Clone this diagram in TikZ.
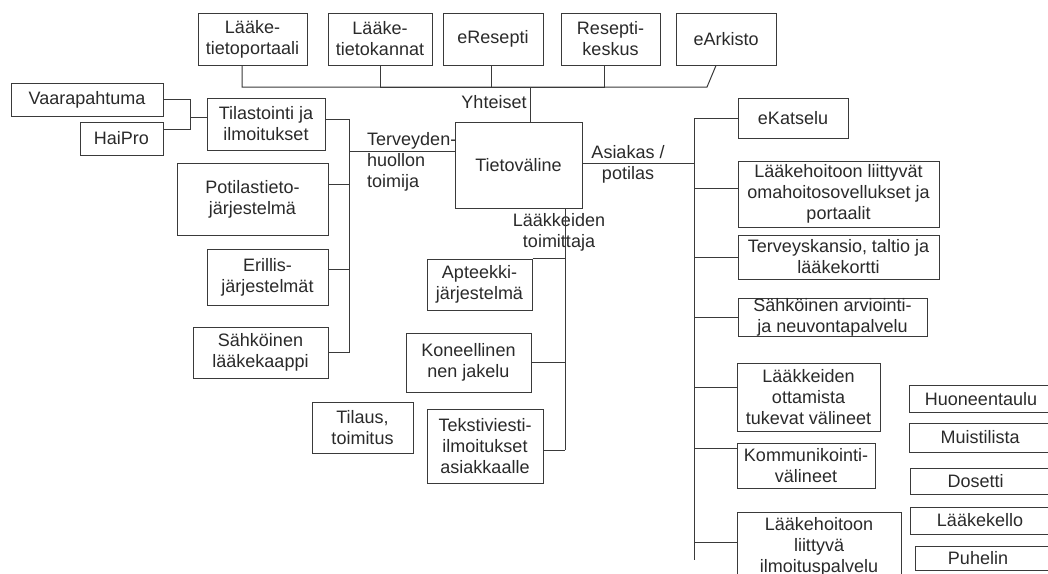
\documentclass[tikz,border=0pt]{standalone}
\usepackage{fontspec}
\setmainfont{Liberation Sans}
\definecolor{linec}{HTML}{3A3A3A}
\definecolor{textc}{HTML}{2A2A2A}
\newcommand{\mainf}{\fontsize{18}{21}\selectfont}
\tikzset{
  box/.style={draw=linec, line width=1pt, inner sep=0pt, align=center, text=textc, font=\mainf},
  sbox/.style={draw=linec, line width=1pt, inner sep=0pt, text=textc, font=\mainf},
  lbl/.style={inner sep=0pt, align=center, text=textc, font=\mainf},
  conn/.style={draw=linec, line width=1pt}
}
\begin{document}
\begin{tikzpicture}[x=1pt,y=-1pt]
\useasboundingbox (0,0) rectangle (1048,573);
\fill[white] (0,0) rectangle (1048,573);
\clip (0,0) rectangle (1048,573);

% top row
\node[box, minimum width=109pt, minimum height=52pt] (lp) at (252.5,39) {Lääke-\\tietoportaali};
\node[box, minimum width=104pt, minimum height=52pt] (lk) at (380,39) {Lääke-\\tietokannat};
\node[box, minimum width=100pt, minimum height=52pt] (er) at (493,39) {eResepti};
\node[box, minimum width=99pt, minimum height=52pt] (rk) at (610.5,39) {Resepti-\\keskus};
\node[box, minimum width=100pt, minimum height=52pt] (ea) at (726,39) {eArkisto};

% centre
\node[box, minimum width=127pt, minimum height=86pt] (tv) at (518.5,165) {Tietoväline};

% left
\node[box, minimum width=152pt, minimum height=33pt] (vp) at (87,99.5) {Vaarapahtuma};
\node[box, minimum width=83pt, minimum height=33pt] (hp) at (121.5,138.5) {HaiPro};
\node[box, minimum width=118pt, minimum height=52pt] (tl) at (266,124) {Tilastointi ja\\ilmoitukset};
\node[box, minimum width=151pt, minimum height=72pt] (pj) at (252.5,199) {Potilastieto-\\järjestelmä};
\node[box, minimum width=121pt, minimum height=56pt] (ej) at (267.5,277) {Erillis-\\järjestelmät};
\node[box, minimum width=135pt, minimum height=51pt] (sl) at (260.5,352.5) {Sähköinen\\lääkekaappi};

% middle
\node[box, minimum width=105pt, minimum height=51pt] (ap) at (479.5,284.5) {Apteekki-\\järjestelmä};
\node[box, minimum width=125pt, minimum height=59pt] (kj) at (468.5,362.5) {Koneellinen\\nen jakelu};
\node[box, minimum width=101pt, minimum height=51pt] (tt) at (362.5,427.5) {Tilaus,\\toimitus};
\node[box, minimum width=116pt, minimum height=74pt] (ta) at (485,446) {Tekstiviesti-\\ilmoitukset\\asiakkaalle};

% right
\node[box, minimum width=110pt, minimum height=40pt] (ek) at (793,118) {eKatselu};
\node[box, minimum width=201pt, minimum height=66pt] (lo) at (838.5,194) {Lääkehoitoon liittyvät\\omahoitosovellukset ja\\portaalit};
\node[box, minimum width=201pt, minimum height=44pt] (tk) at (838.5,257) {Terveyskansio, taltio ja\\lääkekortti};
\node[box, minimum width=189pt, minimum height=38pt] (sa) at (832.5,317) {Sähköinen arviointi-\\ja neuvontapalvelu};
\node[box, minimum width=143pt, minimum height=68pt] (lt) at (808.5,397) {Lääkkeiden\\ottamista\\tukevat välineet};
\node[box, minimum width=138pt, minimum height=45pt] (kv) at (806,465.5) {Kommunikointi-\\välineet};
\node[box, minimum width=164pt, minimum height=70pt] (li) at (819,547) {Lääkehoitoon\\liittyvä\\ilmoituspalvelu};

% far right
\node[sbox, minimum width=151pt, minimum height=27pt] (hu) at (984.5,399) {\kern-7pt Huoneentaulu};
\node[sbox, minimum width=151pt, minimum height=29pt] (mu) at (984.5,437.5) {\kern-9pt Muistilista};
\node[sbox, minimum width=150pt, minimum height=26pt] (do) at (985,481) {\kern-19pt Dosetti};
\node[sbox, minimum width=150pt, minimum height=27pt] (lkk) at (985,520.5) {\kern-10pt Lääkekello};
\node[sbox, minimum width=145pt, minimum height=24pt] (pu) at (987.5,558) {\kern-19pt Puhelin};

% labels
\node[lbl] (yh) at (494,102) {Yhteiset};
\node[lbl, align=left, anchor=west] (th) at (367,162) {Terveyden-\\huollon\\toimija};
\node[lbl] (ap2) at (628,164) {Asiakas /\\potilas};
\node[lbl] (lt2) at (559,232) {Lääkkeiden\\toimittaja};

% top bus
\coordinate (bus) at (530,87);
\coordinate (busE) at (707,87);
\draw[conn] ([xshift=-10.5pt]lp.south) |- (busE) -- ([xshift=-10pt]ea.south);
\draw[conn] (lk.south) |- (bus);
\draw[conn] ([xshift=-2pt]er.south) |- (bus);
\draw[conn] ([xshift=-6.5pt]rk.south) |- (bus);
\draw[conn] (bus) -- (bus |- tv.north);

% left bus
\coordinate (lbus) at (349,352.5);
\draw[conn] ([yshift=14pt]tv.west) -| (lbus);
\draw[conn] ([yshift=5pt]tl.east) -| (lbus);
\draw[conn] ([yshift=15pt]pj.east) -| (lbus);
\draw[conn] ([yshift=7.5pt]ej.east) -| (lbus);
\draw[conn] (sl.east) -- (lbus);

% left junction
\coordinate (jl) at (190,117);
\draw[conn] (vp.east) -| (jl);
\draw[conn] ([yshift=9.5pt]hp.east) -| (jl);
\draw[conn] (jl) -- (jl -| tl.west);

% middle bus
\coordinate (mb) at (565,450);
\draw[conn] (tv.south -| mb) -- (mb);
\draw[conn] (ap.north east) -| (mb);
\draw[conn] (kj.east) -| (mb);
\draw[conn] ([yshift=-4pt]ta.east) -| (mb);

% right bus
\coordinate (rb) at (694,560);
\draw[conn] ([yshift=2pt]tv.east) -| (rb);
\draw[conn] (ek.west) -| (rb);
\draw[conn] ([yshift=6pt]lo.west) -| (rb);
\draw[conn] (tk.west) -| (rb);
\draw[conn] (sa.west) -| (rb);
\draw[conn] ([yshift=10pt]lt.west) -| (rb);
\draw[conn] ([yshift=17.5pt]kv.west) -| (rb);
\draw[conn] ([yshift=5pt]li.west) -| (rb);
\end{tikzpicture}
\end{document}
